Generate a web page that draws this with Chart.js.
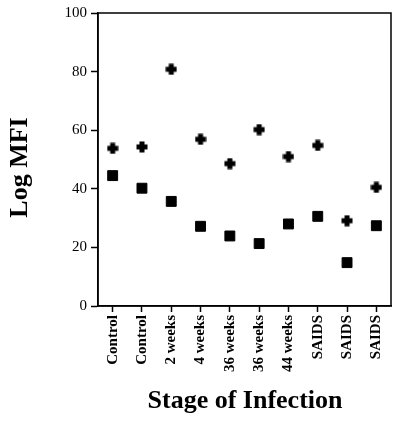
<!DOCTYPE html>
<html>
<head>
<meta charset="utf-8">
<script src="https://cdn.jsdelivr.net/npm/chart.js@4/dist/chart.umd.min.js"></script>
<style>
html,body{margin:0;padding:0;background:#fff;}
#wrap{width:400px;height:429px;position:relative;}
</style>
</head>
<body>
<div id="wrap"><canvas id="c" width="400" height="429"></canvas></div>
<script>
const categories = ["Control","Control","2 weeks","4 weeks","36 weeks","36 weeks","44 weeks","SAIDS","SAIDS","SAIDS"];
const plusValues = [53.8,54.3,80.8,56.9,48.6,60.2,51.0,54.8,29.1,40.5];
const squareValues = [44.5,40.2,35.7,27.2,23.9,21.3,28.0,30.6,14.8,27.4];
const yTicks = [0,20,40,60,80,100];
const xTitle = "Stage of Infection";
const yTitle = "Log MFI";

const FONT = "'Liberation Serif', 'Times New Roman', serif";

function makePlus(){
  const s = 12, t = 5;
  const cv = document.createElement('canvas');
  cv.width = s; cv.height = s;
  const g = cv.getContext('2d');
  g.fillStyle = '#000';
  const o = (s - t) / 2;
  g.fillRect(o, 0.5, t, s - 1);
  g.fillRect(0.5, o, s - 1, t);
  return cv;
}
const plusImg = makePlus();

const frame = {
  id: 'frame',
  afterDraw(chart){
    const {ctx, chartArea: a} = chart;
    ctx.save();
    ctx.strokeStyle = '#000';
    ctx.lineWidth = 1.5;
    ctx.strokeRect(a.left, a.top, a.right - a.left, a.bottom - a.top);
    ctx.fillStyle = '#000';
    ctx.font = "bold 26px " + FONT;
    ctx.textAlign = 'center';
    ctx.textBaseline = 'alphabetic';
    ctx.fillText(xTitle, 245, 408);
    ctx.translate(27, 167.5);
    ctx.rotate(-Math.PI / 2);
    ctx.fillText(yTitle, 0, 0);
    ctx.restore();
  }
};

new Chart(document.getElementById('c'), {
  type: 'line',
  data: {
    labels: categories,
    datasets: [
      {
        data: plusValues,
        showLine: false,
        pointStyle: plusImg,
        pointRadius: 6,
        pointBackgroundColor: '#000',
        pointBorderColor: '#000'
      },
      {
        data: squareValues,
        showLine: false,
        pointStyle: 'rect',
        pointRadius: 7,
        pointBorderWidth: 1,
        pointBackgroundColor: '#000',
        pointBorderColor: '#000'
      }
    ]
  },
  options: {
    responsive: false,
    animation: false,
    devicePixelRatio: 1,
    layout: { padding: { left: 0, top: 13, right: 9, bottom: 0 } },
    plugins: { legend: { display: false }, tooltip: { enabled: false } },
    scales: {
      x: {
        type: 'category',
        offset: true,
        grid: { offset: false, drawOnChartArea: false, drawTicks: true, tickLength: 6, tickColor: '#000', tickWidth: 1.5 },
        border: { display: true, color: '#000', width: 1.5 },
        ticks: {
          color: '#000',
          font: { family: FONT, size: 15, weight: 'bold' },
          minRotation: 90, maxRotation: 90, autoSkip: false, padding: 3
        },
        afterFit(scale){ scale.height = 123; }
      },
      y: {
        min: 0, max: 100,
        afterBuildTicks(scale){ scale.ticks = yTicks.map(v => ({value: v})); },
        grid: { drawOnChartArea: false, drawTicks: true, tickLength: 7, tickColor: '#000', tickWidth: 1.5 },
        border: { display: true, color: '#000', width: 1.5 },
        ticks: {
          color: '#000',
          font: { family: FONT, size: 15 },
          padding: 4
        },
        afterFit(scale){ scale.width = 98; }
      }
    }
  },
  plugins: [frame]
});
</script>
</body>
</html>
